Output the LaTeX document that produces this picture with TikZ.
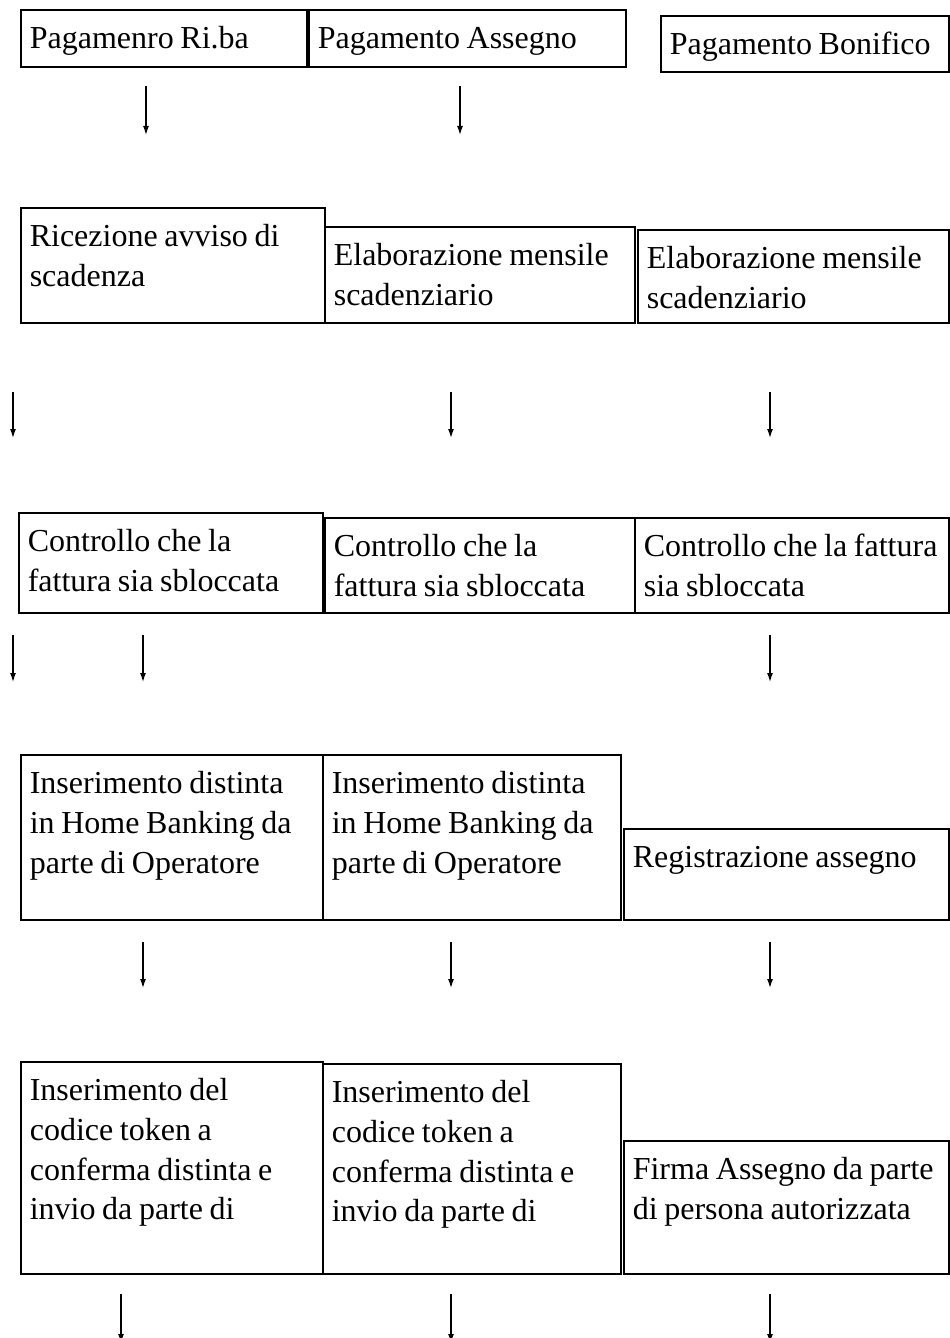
\documentclass[tikz,border=0pt]{standalone}
\usepackage{fontspec}
\setmainfont{Liberation Serif}
\usetikzlibrary{arrows.meta}
\newcommand{\testo}{\fontsize{16}{19.8}\selectfont}

\begin{document}
\begin{tikzpicture}[
  x=0.5pt, y=-0.5pt,
  fase/.style 2 args={
    draw,
    line width=0.8pt,
    anchor=north west,
    inner sep=0pt,
    align=left,
    text width=#1*0.5pt,
    text height=19.5pt,
    text depth=#2*0.5pt-19.5pt,
    execute at begin node={\testo\leftskip=4.5pt}
    },
  freccia/.style={line width=0.65pt, -{Latex[length=4.5pt,width=3pt]}}
]

\useasboundingbox (0,0) rectangle (949,1338);

% avvio
\node[fase={286}{57}] (riba1) at (20,9) {Pagamenro Ri.ba};
\node[fase={317}{57}] (asse1) at (308,9) {Pagamento Assegno};
\node[fase={288}{56}] (boni1) at (660,15) {Pagamento Bonifico};

\node[fase={304}{115}] (riba2) at (20,207) {Ricezione avviso di\\scadenza};
\node[fase={310}{96}] (asse2) at (324,226) {Elaborazione mensile\\scadenziario};
\node[fase={311}{93}] (boni2) at (637,229) {Elaborazione mensile\\scadenziario};

\node[fase={304}{100}] (riba3) at (18,512) {Controllo che la\\fattura sia sbloccata};
\node[fase={310}{95}] (asse3) at (324,517) {Controllo che la\\fattura sia sbloccata};
\node[fase={314}{95}] (boni3) at (634,517) {Controllo che la fattura\\sia sbloccata};

\node[fase={302}{165}] (riba4) at (20,754) {Inserimento distinta\\in Home Banking da\\parte di Operatore};
\node[fase={298}{165}] (asse4) at (322,754) {Inserimento distinta\\in Home Banking da\\parte di Operatore};
\node[fase={325}{91}] (boni4) at (623,828) {Registrazione assegno};

\node[fase={302}{212}] (riba5) at (20,1061) {Inserimento del\\codice token a\\conferma distinta e\\invio da parte di};
\node[fase={298}{210}] (asse5) at (322,1063) {Inserimento del\\codice token a\\conferma distinta e\\invio da parte di};
\node[fase={325}{133}] (boni5) at (623,1140) {Firma Assegno da parte\\di persona autorizzata};

% frecce
\foreach \x/\ya/\yb [count=\i] in {146/86/135, 460/86/135,
    13/392/438, 451/392/438, 770/392/438,
    13/635/682, 143/635/682, 770/635/682,
    143/942/988, 451/942/988, 770/942/988,
    121/1294/1343, 451/1294/1343, 770/1294/1343}
  {
  \coordinate (da\i) at (\x,\ya);
  \coordinate (a\i) at (\x,\yb);
  \draw[freccia] (da\i) -- (a\i);
  }
\end{tikzpicture}
\end{document}
